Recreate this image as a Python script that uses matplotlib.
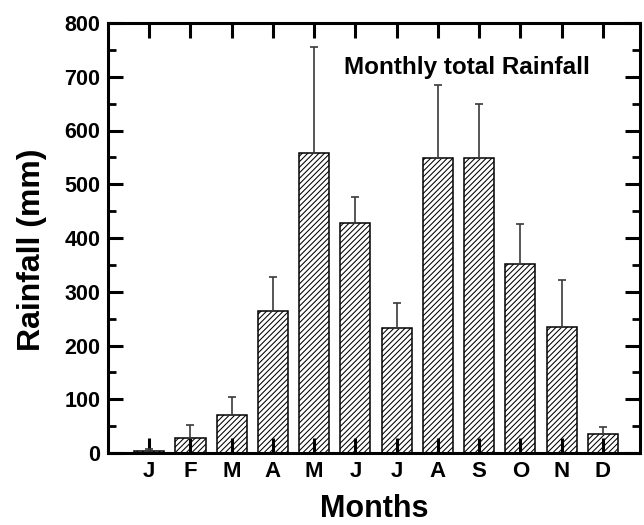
import matplotlib
matplotlib.use("Agg")
import matplotlib.pyplot as plt
from matplotlib.ticker import MultipleLocator

# Monthly totals and their standard deviations (upper error only)
months = ["J", "F", "M", "A", "M", "J", "J", "A", "S", "O", "N", "D"]
rainfall = [4, 27, 70, 264, 558, 427, 232, 549, 549, 351, 234, 35]
rain_sd = [4, 26, 35, 64, 197, 50, 48, 136, 100, 75, 88, 14]

plt.rcParams["font.family"] = ["Liberation Sans", "DejaVu Sans"]
plt.rcParams["font.weight"] = "bold"
plt.rcParams["hatch.linewidth"] = 0.75
plt.rcParams["hatch.color"] = "black"

fig = plt.figure(figsize=(6.44, 5.25), dpi=100)
ax = fig.add_axes([108 / 644, 1 - 453 / 525, (640 - 108) / 644, (453 - 23) / 525])

x = list(range(1, len(months) + 1))
ax.bar(x, rainfall, width=0.73, facecolor="white", edgecolor="black",
       linewidth=1.1, hatch="//////", zorder=1)
ax.errorbar(x, rainfall, yerr=[[0] * len(rain_sd), rain_sd], fmt="none",
            ecolor="#3a3a3a", elinewidth=1.2, capsize=3, capthick=1.2, zorder=2)

ax.set_xlim(0, 12.9)
ax.set_ylim(0, 800)
ax.set_xticks(x)
ax.set_xticklabels(months)
ax.yaxis.set_major_locator(MultipleLocator(100))
ax.yaxis.set_minor_locator(MultipleLocator(50))

for side in ax.spines.values():
    side.set_linewidth(2.2)

ax.tick_params(axis="both", which="major", direction="in", length=10.8, width=2.2,
               top=True, right=True)
ax.tick_params(axis="y", which="minor", direction="in", length=5.8, width=2.0,
               left=True, right=True)
ax.tick_params(axis="x", which="minor", bottom=False, top=False)
ax.tick_params(axis="x", labelsize=16, pad=6)
ax.tick_params(axis="y", labelsize=15.5, pad=5.5)
for lab in ax.get_xticklabels() + ax.get_yticklabels():
    lab.set_fontweight("bold")

ax.text(5.72, 705, "Monthly total Rainfall", fontsize=17.5, fontweight="bold",
        ha="left", va="baseline")

fig.text(374 / 644, 1 - 517 / 525, "Months", fontsize=22, fontweight="bold",
         ha="center", va="baseline")
fig.text(32 / 644, 1 - 250 / 525, "Rainfall (mm)", fontsize=23, fontweight="bold",
         ha="center", va="center", rotation=90)

fig.savefig("out.png", dpi=100)
